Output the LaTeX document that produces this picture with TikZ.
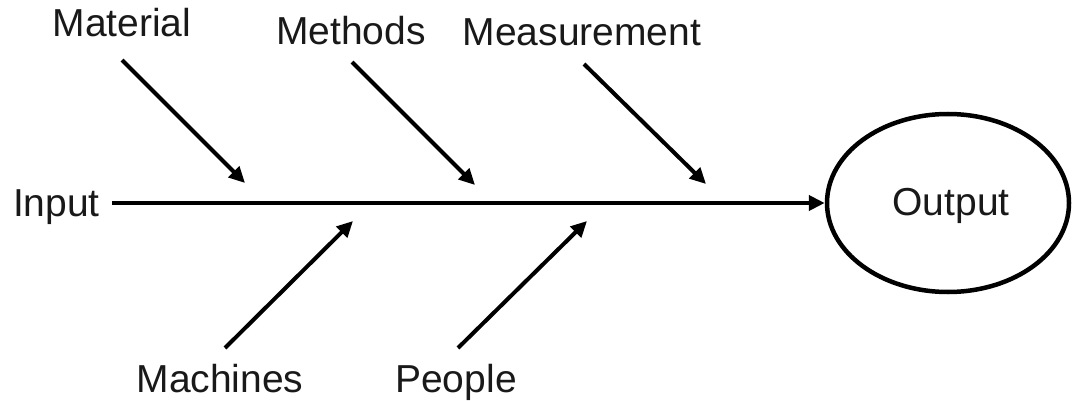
\documentclass[tikz,border=0pt]{standalone}
\usepackage{fontspec}
\setmainfont{Liberation Sans}
\usetikzlibrary{arrows.meta,shapes.geometric}
\begin{document}
\begin{tikzpicture}[x=1pt,y=-1pt,
  lbl/.style={anchor=base,inner sep=0pt,font=\fontsize{39}{42}\selectfont,text=black!90},
  bone/.style={line width=4pt,-{Triangle[length=16pt,width=15pt]}}]
\useasboundingbox (0,0) rectangle (1073,401);
% labels
\node[lbl] (mat) at (122,37) {Material};
\node[lbl] (meth) at (351,45) {Methods};
\node[lbl] (meas) at (582,46) {Measurement};
\node[lbl] (mach) at (220,392) {Machines};
\node[lbl] (peop) at (456,392) {People};
\node[lbl,anchor=base east] (in) at (100,216) {Input};
\node[draw,ellipse,line width=4.5pt,minimum width=242pt,minimum height=178pt,inner sep=0pt] (out) at (948,203) {};
\node[lbl] (outt) at (951,215) {Output};
% endpoints
\coordinate (matS) at (122,60);  \coordinate (matE) at (245,183);
\coordinate (methS) at (352,62); \coordinate (methE) at (475,185);
\coordinate (measS) at (584,64); \coordinate (measE) at (706,184);
\coordinate (machS) at (225,348);\coordinate (machE) at (353,221);
\coordinate (peopS) at (458,348);\coordinate (peopE) at (587,221);
\coordinate (lineS) at (112,203);
% spine
\draw[bone] (lineS) -- (out.west);
% bones
\draw[bone] (matS) -- (matE);
\draw[bone] (methS) -- (methE);
\draw[bone] (measS) -- (measE);
\draw[bone] (machS) -- (machE);
\draw[bone] (peopS) -- (peopE);
\end{tikzpicture}
\end{document}
